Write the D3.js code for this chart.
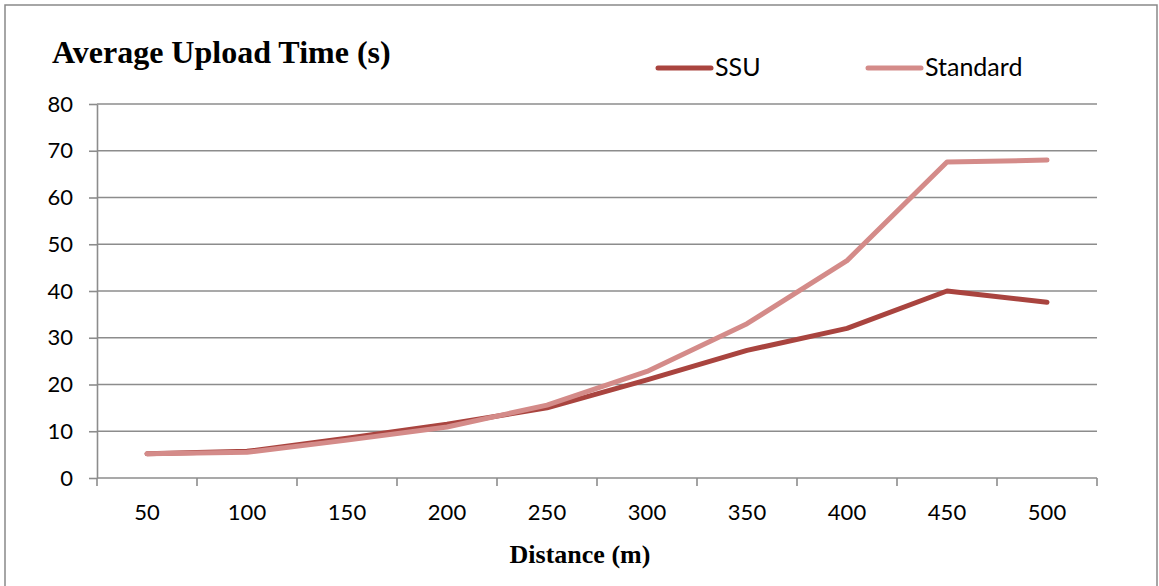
<!DOCTYPE html>
<html>
<head>
<meta charset="utf-8">
<script src="https://cdn.jsdelivr.net/npm/d3@7"></script>
<style>
  html, body { margin: 0; padding: 0; background: #fff; }
  svg { display: block; }
</style>
</head>
<body>
<svg id="chart" width="1159" height="586"></svg>
<script>
// Distance categories (m)
const distances = [50, 100, 150, 200, 250, 300, 350, 400, 450, 500];
// Average upload time (s) per series
const ssu      = [5.2, 5.7, 8.5, 11.5, 15.0, 21.0, 27.3, 32.0, 40.0, 37.6];
const standard = [5.2, 5.5, 8.1, 10.9, 15.6, 22.8, 33.0, 46.5, 67.6, 68.0];
const yTicks   = [0, 10, 20, 30, 40, 50, 60, 70, 80];

const seriesNames  = ["SSU", "Standard"];
const seriesColors = ["#A9443F", "#D48B89"];

const svg = d3.select("#chart");
const W = 1159, H = 586;
const plot = { left: 97, right: 1097, top: 104, bottom: 478 };
const sans = "Lato, 'Open Sans', sans-serif";
const serif = "'Liberation Serif', 'Times New Roman', serif";

// outer frame
svg.append("path")
  .attr("d", `M5,${H} L5,5 L1157,5 L1157,${H}`)
  .attr("fill", "none").attr("stroke", "#898989").attr("stroke-width", 1.5);

const x = d3.scaleBand().domain(distances).range([plot.left, plot.right]).padding(0);
const y = d3.scaleLinear().domain([0, 80]).range([plot.bottom, plot.top]);

// horizontal gridlines
svg.append("g").selectAll("line").data(yTicks.filter(v => v > 0)).join("line")
  .attr("x1", plot.left).attr("x2", plot.right)
  .attr("y1", d => y(d)).attr("y2", d => y(d))
  .attr("stroke", "#8c8c8c").attr("stroke-width", 1.6);

// y axis
const yAxis = svg.append("g").attr("transform", `translate(${plot.left},0)`)
  .call(d3.axisLeft(y).tickValues(yTicks).tickSize(8).tickPadding(16).tickSizeOuter(0));
yAxis.select(".domain").attr("stroke", "#8c8c8c").attr("stroke-width", 1.6);
yAxis.selectAll(".tick line").attr("stroke", "#8c8c8c").attr("stroke-width", 1.6);
yAxis.selectAll("text").attr("font-family", sans)
  .attr("font-size", 22).attr("fill", "#000");

// x axis: category labels centred, ticks at category boundaries
const xAxis = svg.append("g").attr("transform", `translate(0,${plot.bottom})`)
  .call(d3.axisBottom(x).tickSize(0).tickPadding(26).tickSizeOuter(0));
xAxis.select(".domain").remove();
xAxis.selectAll("text").attr("font-family", sans)
  .attr("font-size", 22).attr("fill", "#000");
svg.append("line")
  .attr("x1", plot.left).attr("x2", plot.right)
  .attr("y1", plot.bottom).attr("y2", plot.bottom)
  .attr("stroke", "#8c8c8c").attr("stroke-width", 1.6);
const boundaries = distances.map(d => x(d)).concat([x(distances[distances.length - 1]) + x.bandwidth()]);
svg.append("g").selectAll("line").data(boundaries).join("line")
  .attr("x1", d => d).attr("x2", d => d)
  .attr("y1", plot.bottom).attr("y2", plot.bottom + 8)
  .attr("stroke", "#8c8c8c").attr("stroke-width", 1.6);

// series lines
const line = d3.line()
  .x((d, i) => x(distances[i]) + x.bandwidth() / 2)
  .y(d => y(d));
[ssu, standard].forEach((vals, k) => {
  svg.append("path").datum(vals)
    .attr("d", line)
    .attr("fill", "none")
    .attr("stroke", seriesColors[k])
    .attr("stroke-width", 5)
    .attr("stroke-linejoin", "round")
    .attr("stroke-linecap", "round");
});

// title
svg.append("text").attr("x", 52).attr("y", 63)
  .attr("font-family", serif)
  .attr("font-weight", "bold").attr("font-size", 32)
  .text("Average Upload Time (s)");

// x axis title
svg.append("text").attr("x", 580).attr("y", 563).attr("text-anchor", "middle")
  .attr("font-family", serif)
  .attr("font-weight", "bold").attr("font-size", 26)
  .text("Distance (m)");

// legend
const legendX = [658, 868];
seriesNames.forEach((name, k) => {
  const g = svg.append("g").attr("transform", `translate(${legendX[k]},68)`);
  g.append("line").attr("x1", 0).attr("x2", 53).attr("y1", 0).attr("y2", 0)
    .attr("stroke", seriesColors[k]).attr("stroke-width", 5).attr("stroke-linecap", "round");
  g.append("text").attr("x", 57).attr("y", 8)
    .attr("font-family", sans).attr("font-size", 25)
    .attr("fill", "#000").text(name);
});
</script>
</body>
</html>
